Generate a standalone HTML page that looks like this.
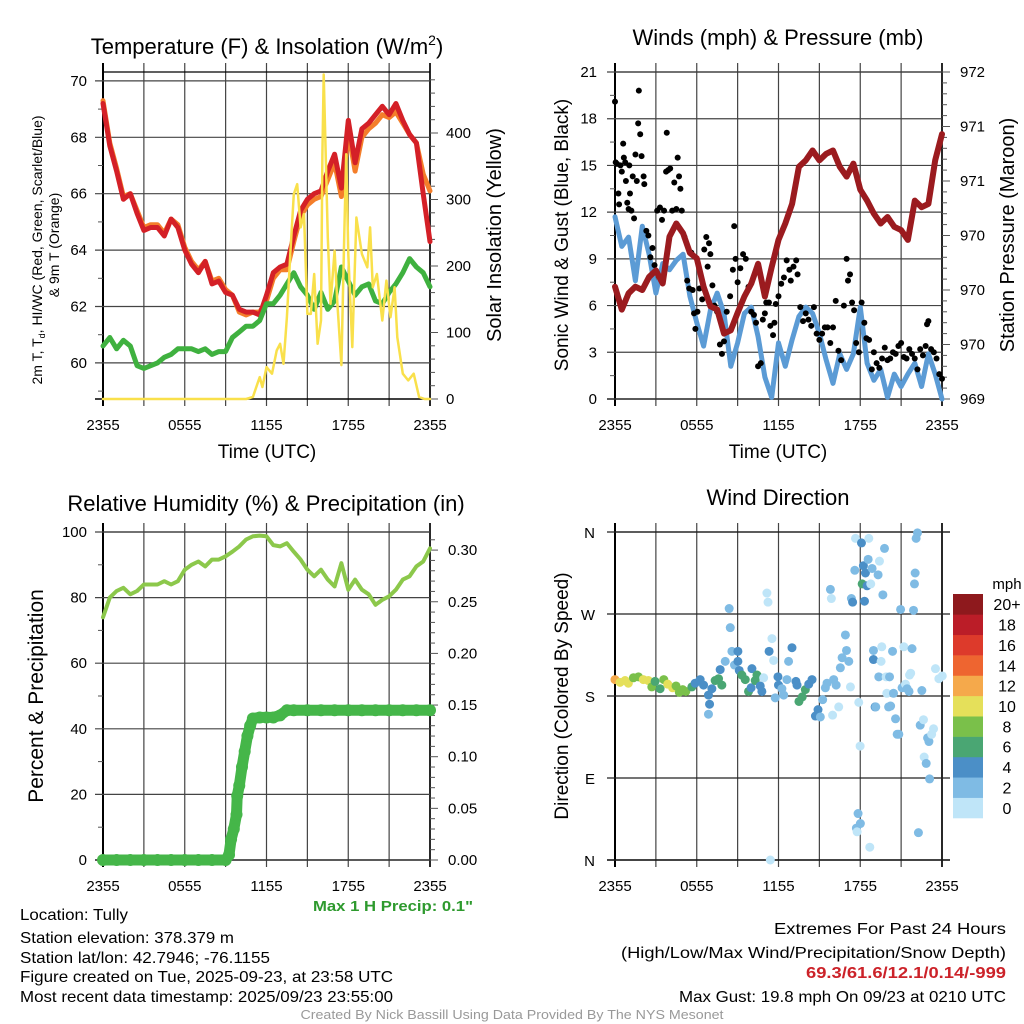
<!DOCTYPE html>
<html><head><meta charset="utf-8">
<style>
html,body{margin:0;padding:0;background:#fff;}
svg{display:block;font-family:"Liberation Sans",sans-serif;}
</style></head>
<body>
<svg id="fig" width="1024" height="1024" viewBox="0 0 1024 1024" xmlns="http://www.w3.org/2000/svg">
<rect width="1024" height="1024" fill="#fff"/>
<g id="grids"></g>
<g id="series"></g>
<g id="labels" font-size="14" fill="#000">
  <text x="267" y="54" font-size="22" text-anchor="middle">Temperature (F) &amp; Insolation (W/m<tspan font-size="14" dy="-9">2</tspan><tspan dy="9">)</tspan></text>
  <text x="778" y="45" font-size="22" text-anchor="middle">Winds (mph) &amp; Pressure (mb)</text>
  <text x="266" y="511" font-size="22" text-anchor="middle">Relative Humidity (%) &amp; Precipitation (in)</text>
  <text x="778" y="505" font-size="22" text-anchor="middle">Wind Direction</text>

  <text x="267" y="458" font-size="19" text-anchor="middle">Time (UTC)</text>
  <text x="778" y="458" font-size="19" text-anchor="middle">Time (UTC)</text>

  <text transform="translate(42,250) rotate(-90)" font-size="14" text-anchor="middle">2m T, T<tspan font-size="9" dy="3">d</tspan><tspan dy="-3">, HI/WC (Red, Green, Scarlet/Blue)</tspan></text>
  <text transform="translate(59,245) rotate(-90)" font-size="14" text-anchor="middle">&amp; 9m T (Orange)</text>
  <text transform="translate(501,235) rotate(-90)" font-size="20" text-anchor="middle">Solar Insolation (Yellow)</text>
  <text transform="translate(568,235) rotate(-90)" font-size="19" text-anchor="middle">Sonic Wind &amp; Gust (Blue, Black)</text>
  <text transform="translate(1014,235) rotate(-90)" font-size="20" text-anchor="middle">Station Pressure (Maroon)</text>
  <text transform="translate(43,696) rotate(-90)" font-size="21" text-anchor="middle">Percent &amp; Precipitation</text>
  <text transform="translate(568,696) rotate(-90)" font-size="19" text-anchor="middle">Direction (Colored By Speed)</text>

  <text x="393" y="911" font-size="15" font-weight="bold" fill="#2e9a2e" text-anchor="middle" textLength="160" lengthAdjust="spacingAndGlyphs">Max 1 H Precip: 0.1"</text>

  <text x="20" y="920" font-size="16" textLength="108" lengthAdjust="spacingAndGlyphs">Location: Tully</text>
  <text x="20" y="943" font-size="16" textLength="214" lengthAdjust="spacingAndGlyphs">Station elevation: 378.379 m</text>
  <text x="20" y="963" font-size="16" textLength="250" lengthAdjust="spacingAndGlyphs">Station lat/lon: 42.7946; -76.1155</text>
  <text x="20" y="982" font-size="16" textLength="373" lengthAdjust="spacingAndGlyphs">Figure created on Tue, 2025-09-23, at 23:58 UTC</text>
  <text x="20" y="1002" font-size="16" textLength="373" lengthAdjust="spacingAndGlyphs">Most recent data timestamp: 2025/09/23 23:55:00</text>

  <text x="1006" y="934" font-size="16" text-anchor="end" textLength="232" lengthAdjust="spacingAndGlyphs">Extremes For Past 24 Hours</text>
  <text x="1006" y="958" font-size="16" text-anchor="end" textLength="385" lengthAdjust="spacingAndGlyphs">(High/Low/Max Wind/Precipitation/Snow Depth)</text>
  <text x="1006" y="978" font-size="16" font-weight="bold" fill="#cc2229" text-anchor="end" textLength="200" lengthAdjust="spacingAndGlyphs">69.3/61.6/12.1/0.14/-999</text>
  <text x="1006" y="1002" font-size="16" text-anchor="end" textLength="327" lengthAdjust="spacingAndGlyphs">Max Gust: 19.8 mph On 09/23 at 0210 UTC</text>
  <text x="512" y="1019" font-size="13" fill="#999" text-anchor="middle" textLength="423" lengthAdjust="spacingAndGlyphs">Created By Nick Bassill Using Data Provided By The NYS Mesonet</text>
</g>
<g id="colorbar"></g>
</svg>
<script>
// ---------- DATA ----------
const hours = [0,0.5,1,1.5,2,2.5,3,3.5,4,4.5,5,5.5,6,6.5,7,7.5,8,8.5,9,9.5,10,10.5,11,11.5,12,12.5,13,13.5,14,14.5,15,15.5,16,16.5,17,17.5,18,18.5,19,19.5,20,20.5,21,21.5,22,22.5,23,23.5,24];
const tempVals = [69.2,67.7,66.8,65.8,66.0,65.3,64.7,64.8,64.8,64.5,65.1,64.8,64.0,63.5,63.2,63.6,62.8,62.9,62.5,62.4,61.9,61.8,61.8,61.7,62.4,63.2,63.4,63.5,64.5,65.4,65.8,66.0,66.1,66.8,67.4,66.2,68.6,67.1,68.3,68.5,68.8,69.1,68.8,69.2,68.6,68.1,67.8,66.0,64.3];
const temp9mVals = [69.3,67.8,66.9,65.9,66.0,65.4,64.8,64.9,64.9,64.6,65.1,64.9,64.1,63.6,63.3,63.6,62.9,63.0,62.6,62.4,61.8,61.7,61.8,61.8,62.2,63.0,63.3,63.3,64.3,65.2,65.6,65.8,65.9,66.5,67.1,65.9,68.2,66.8,68.0,68.3,68.5,68.8,68.7,68.9,68.5,68.1,67.8,66.7,66.1];
const dewVals = [60.6,60.9,60.5,60.8,60.6,59.9,59.8,59.9,60.0,60.2,60.3,60.5,60.5,60.5,60.4,60.5,60.3,60.4,60.4,60.9,61.1,61.3,61.3,61.5,62.1,62.1,62.4,62.8,63.2,62.7,62.4,61.9,62.5,61.9,62.2,63.4,62.9,62.4,62.7,62.8,62.2,62.1,62.5,62.8,63.2,63.7,63.4,63.2,62.7];
const solarHours = [0,10.5,11,11.5,11.7,12,12.4,12.75,13,13.25,13.5,13.75,14,14.25,14.5,14.75,15,15.25,15.5,15.75,16,16.1,16.2,16.5,16.7,17,17.2,17.5,17.7,17.85,18,18.3,18.6,19,19.4,19.6,19.8,20.1,20.5,20.8,21.1,21.4,21.6,22,22.4,22.8,23.2,23.6,24];
const solarVals = [0,0,3,33,18,48,38,73,83,53,123,218,308,323,258,278,128,128,188,83,118,368,488,243,143,223,143,51,243,368,218,78,273,218,198,258,168,188,118,178,123,168,93,38,28,38,3,0,0];
const windVals = [11.7,9.8,10.4,7.6,11.1,9.3,6.8,8.7,8.3,8.9,9.3,6.6,4.9,3.4,5.7,6.8,5.5,2.1,3.6,5.5,5.9,4.0,1.4,0.1,3.6,2.1,3.8,5.3,5.9,5.5,4.2,2.5,1.0,2.9,1.9,2.9,5.9,2.3,1.2,1.9,0.1,1.6,0.8,1.6,2.3,0.8,2.9,1.6,0];
const pressVals = [970.03,969.82,969.97,970.03,970.0,970.12,970.18,970.06,970.49,970.61,970.52,970.34,970.29,970.03,969.85,969.82,969.6,969.63,969.79,969.94,970.06,970.24,969.94,970.21,970.46,970.61,970.79,971.13,971.19,971.28,971.19,971.25,971.28,971.13,971.04,971.16,970.92,970.82,970.7,970.61,970.67,970.58,970.55,970.46,970.82,970.76,970.79,971.19,971.43];
const gustHours = [0,0.05,0.15,0.25,0.3,0.4,0.5,0.6,0.65,0.75,0.8,0.9,1.0,1.05,1.1,1.2,1.3,1.4,1.5,1.6,1.7,1.75,1.85,1.95,2.1,2.15,2.3,2.45,2.6,2.75,2.9,3.1,3.3,3.45,3.6,3.75,3.8,3.9,4.05,4.2,4.35,4.5,4.6,4.7,4.8,4.9,5.1,5.3,5.45,5.6,5.7,5.8,5.9,6.05,6.2,6.4,6.55,6.7,6.8,6.9,7.0,7.15,7.3,7.5,7.7,7.85,8.0,8.2,8.45,8.65,8.75,8.85,9.0,9.2,9.4,9.6,9.8,10.0,10.2,10.35,10.5,10.7,10.85,11.0,11.1,11.3,11.4,11.6,11.7,11.8,12.0,12.2,12.4,12.6,12.8,12.9,13.1,13.3,13.4,13.6,13.8,14.0,14.2,14.4,14.6,14.8,15.0,15.2,15.4,15.6,15.8,16.0,16.2,16.4,16.6,16.8,17.0,17.1,17.25,17.4,17.55,17.7,17.9,18.1,18.3,18.45,18.65,18.85,19.0,19.2,19.4,19.6,19.8,20.0,20.2,20.4,20.6,20.8,21.0,21.2,21.4,21.6,21.8,22.0,22.2,22.4,22.6,22.8,22.9,23.0,23.2,23.4,23.6,23.8,24.0];
const gustVals = [19.1,15.2,15.1,13.2,12.5,15.0,14.6,16.4,15.5,15.2,14.0,12.6,12.2,15.0,13.2,12.1,14.3,11.6,15.7,14.0,17.7,19.8,17.0,15.6,14.3,13.8,10.8,10.5,9.1,9.7,8.6,12.1,12.3,11.5,12.1,14.6,17.1,14.7,14.8,12.1,13.9,12.2,15.5,14.3,13.5,12.1,10.4,7.6,7.1,9.4,7.0,5.5,4.5,5.6,7.1,6.4,9.6,10.4,8.5,10.0,9.3,7.3,6.0,5.6,3.5,2.9,3.7,5.6,6.6,8.3,11.1,9.0,7.5,8.4,9.3,9.0,7.2,5.6,5.4,4.9,2.1,2.3,5.1,5.5,6.2,6.2,4.7,4.1,4.9,6.1,6.6,7.4,7.8,8.9,8.3,7.6,8.5,8.9,8.0,5.9,5.0,5.5,5.1,4.7,5.9,4.2,3.8,4.2,4.6,4.6,3.6,4.6,6.3,3.1,2.5,6.0,9.0,7.6,8.0,6.2,5.7,3.6,3.0,6.2,4.9,3.9,3.8,1.9,3.0,2.3,2.0,2.6,3.3,2.5,2.6,3.0,2.9,3.4,3.6,2.7,2.6,3.2,2.9,2.6,1.9,3.2,2.8,3.4,4.8,5.0,3.2,3.0,2.6,1.6,1.3];
const rhVals = [74,80,82,83,81,82,84,84,84,85,84,85,88.5,90,91,89.5,91.6,91.6,92.6,94,95.6,97.7,98.7,98.9,98.7,96,95.6,96.6,94,91.6,88.5,86.5,88.5,85.5,83.4,90.5,82.4,85.5,82.4,81,77.8,79.3,80.4,82.4,85.5,86.5,89.5,91,95];
const precipHours = [0,1,2,3,4,5,6,7,8,9,9.25,9.4,9.6,9.8,9.85,10.0,10.2,10.4,10.6,10.8,11.0,11.5,12,12.5,13,13.5,14,15,16,17,18,19,20,21,22,23,24];
const precipVals = [0,0,0,0,0,0,0,0,0,0,0.005,0.02,0.03,0.044,0.062,0.072,0.09,0.105,0.12,0.13,0.137,0.138,0.138,0.138,0.14,0.145,0.145,0.145,0.145,0.145,0.145,0.145,0.145,0.145,0.145,0.145,0.145];
const dirHours = [0,0.37,0.74,0.98,1.35,1.72,2.08,2.45,2.7,2.94,3.31,3.58,3.87,4.23,4.48,4.72,4.97,5.2,5.64,5.88,6.25,6.5,6.86,7.11,6.94,6.86,7.35,7.6,7.84,7.72,8.09,8.38,8.46,8.58,8.77,9.02,9.02,9.12,9.31,9.56,9.8,9.99,10.05,10.29,10.42,10.66,10.78,10.91,11.15,11.23,11.31,11.52,11.64,11.76,11.96,12.0,12.25,12.38,12.62,12.74,12.99,13.28,13.36,13.5,13.74,13.97,14.22,14.46,14.71,14.9,15.07,15.24,15.44,15.56,15.81,15.88,15.97,16.05,16.23,16.42,16.54,16.67,16.91,16.99,17.16,17.28,17.35,17.44,17.6,17.65,17.72,17.77,17.84,17.89,17.99,18.01,18.09,18.14,18.23,18.31,18.38,18.5,18.58,18.63,18.7,18.77,18.87,18.97,18.97,19.09,19.14,19.31,19.36,19.53,19.41,19.58,19.66,19.78,19.9,19.95,20.08,20.15,20.23,20.37,20.44,20.59,20.71,20.83,20.96,21.07,21.2,21.32,21.44,21.58,21.62,21.7,21.8,21.91,21.98,22.03,22.1,22.2,22.27,22.4,22.52,22.64,22.69,22.84,22.94,23.04,23.09,23.24,23.38,23.52,23.77,24.02,11.4];
const dirVals = [198,195,197,194,200,201,198,197,190,196,188,198,193,189,191,184,187,185,190,194,198,192,181,188,171,160,197,199,192,209,218,276,255,229,214,229,218,208,203,198,185,189,210,197,203,191,185,200,293,283,229,243,219,178,201,192,188,181,198,218,233,196,192,174,179,187,193,198,158,165,157,176,189,194,297,287,159,198,192,168,211,222,247,230,218,190,287,283,318,353,35,31,51,173,125,40,348,303,323,284,315,301,330,353,14,303,320,230,220,168,168,313,201,218,328,234,291,342,201,183,168,201,169,229,183,155,138,138,275,189,234,193,188,185,203,205,232,274,303,315,353,359,30,148,186,154,113,106,134,130,89,138,144,210,199,202,0,0];
const dirSpeeds = [12,10,10,10,8,8,10,10,8,6,6,8,10,10,8,8,8,8,6,4,4,4,4,4,4,2,6,6,6,4,2,2,2,2,2,4,4,4,6,6,6,4,4,6,6,4,4,0,0,0,4,0,0,2,4,4,2,2,2,2,4,4,4,6,6,6,4,4,4,4,2,2,2,2,2,0,0,2,2,0,2,2,2,2,2,0,2,4,2,0,2,0,2,0,0,2,4,6,4,4,4,4,2,0,0,0,2,2,4,4,2,2,2,0,0,0,2,2,0,0,2,2,2,2,2,2,2,2,2,2,0,0,2,2,0,0,2,2,2,2,2,2,2,2,2,0,0,2,2,2,2,0,0,0,0,0,0];
const colorbarLabels = ["0","2","4","6","8","10","12","14","16","18","20+"];
const colorbarColors = ["#bfe5f8","#7fbbe4","#4b8fc7","#4aa673","#7ac04a","#e5e05a","#f5a94b","#ee6530","#dd3a2b","#bb1d28","#8e191d"];
const xTickLabels = ["2355","0555","1155","1755","2355"];
const tempTicks = [60,62,64,66,68,70];
const solarTicks = [0,100,200,300,400];
const windTicks = [0,3,6,9,12,15,18,21];
const pressTicks = [969,969.5,970,970.5,971,971.5,972];
const pressTickLabels = ["969","970","970","970","971","971","972"];
const rhTicks = [0,20,40,60,80,100];
const precipTicks = [0,0.05,0.10,0.15,0.20,0.25,0.30];
const dirTicks = [0,90,180,270,360];
const dirTickLabels = ["N","E","S","W","N"];

// ---------- HELPERS ----------
const NS = "http://www.w3.org/2000/svg";
const G = document.getElementById('grids'), S = document.getElementById('series'), L = document.getElementById('labels'), CB = document.getElementById('colorbar');
function mk(tag, attrs, parent){const e=document.createElementNS(NS,tag);for(const k in attrs)e.setAttribute(k,attrs[k]);parent.appendChild(e);return e;}
function line(p,x1,y1,x2,y2,c,w,name){const e=mk('line',{x1,y1,x2,y2,stroke:c,'stroke-width':w},p);


return e;}
function txt(p,x,y,s,anchor,name,size){const e=mk('text',{x,y,'text-anchor':anchor,'font-size':size||15},p);e.textContent=s;


return e;}
function poly(p,xs,ys,fx,fy,c,w,name){const pts=xs.map((h,i)=>fx(h).toFixed(1)+','+fy(ys[i]).toFixed(1)).join(' ');
const e=mk('polyline',{points:pts,fill:'none',stroke:c,'stroke-width':w,'stroke-linejoin':'round','stroke-linecap':'round'},p);


return e;}

function frame(x0,x1,y0,y1,prefix,extRight){
  for(let h=0;h<=24;h+=3){const x=x0+h/24*(x1-x0);
    line(G,x,y0-9,x,y1+7,(h===0||h===24)?'#000':'#444',(h===0)?2:1.2,prefix+'-vgrid');}
  line(G,x0,y0,x1+(extRight||0),y0,'#000',1.2,prefix+'-top-border');
  line(G,x0-8,y1,x1+(extRight||0),y1,'#000',1.4,prefix+'-bottom-border');
  line(G,x0,y0-9,x0,y1+7,'#000',2,prefix+'-left-axis');
  line(G,x1,y0-9,x1,y1+7,'#000',1.6,prefix+'-right-axis');
  xTickLabels.forEach((s,i)=>txt(L,x0+i*6/24*(x1-x0),y1+31,s,'middle',prefix+'-x-tick-label',15));
}

// ---------- PANEL 1: temperature ----------
{
 const x0=103,x1=430,y0=72,y1=399;
 const fx=h=>x0+h/24*(x1-x0);
 const fyT=v=>y1-(v-58.72)*28.2;
 const fyS=v=>y1-v*0.665;
 frame(x0,x1,y0,y1,'temp');
 tempTicks.forEach(v=>{line(G,x0-8,fyT(v),x1,fyT(v),'#444',1.2,'temp-hgrid');txt(L,x0-16,fyT(v)+5,String(v),'end','temp-y-tick-label');});
 for(let v=59;v<=69;v+=2) line(G,x0-5,fyT(v),x0,fyT(v),'#555',1,'temp-minor-tick');
 for(let v=0;v<=480;v+=20){const big=v%100===0;line(G,x1,fyS(v),x1+(big?8:5),fyS(v),'#555',1,'solar-tick');}
 solarTicks.forEach(v=>txt(L,x1+16,fyS(v)+5,String(v),'start','solar-y-tick-label'));
 poly(S,hours,temp9mVals,fx,fyT,'#f47e2a',5,'temp-9m-line');
 poly(S,hours,tempVals,fx,fyT,'#d42027',5,'temp-2m-line');
 poly(S,hours,dewVals,fx,fyT,'#3fb13f',5,'dewpoint-line');
 poly(S,solarHours,solarVals,fx,fyS,'#f9e04b',2.5,'solar-line');
}
// ---------- PANEL 2: wind ----------
{
 const x0=615,x1=942,y0=72,y1=399;
 const fx=h=>x0+h/24*(x1-x0);
 const fyW=v=>y1-v*(y1-y0)/21;
 const fyP=v=>y1-(v-969)*(y1-y0)/3;
 frame(x0,x1,y0,y1,'wind');
 windTicks.forEach(v=>{line(G,x0-8,fyW(v),x1,fyW(v),'#444',1.2,'wind-hgrid');txt(L,x0-18,fyW(v)+5,String(v),'end','wind-y-tick-label');});
 for(let v=1.5;v<21;v+=3) line(G,x0-5,fyW(v),x0,fyW(v),'#555',1,'wind-minor-tick');
 for(let k=0;k<=30;k++){const v=969+k*0.1;const big=k%5===0;line(G,x1,fyP(v),x1+(big?8:5),fyP(v),'#555',1,'pressure-tick');}
 pressTicks.forEach((v,i)=>txt(L,x1+18,fyP(v)+5,pressTickLabels[i],'start','pressure-y-tick-label'));
 poly(S,hours,windVals,fx,fyW,'#5b9bd5',5,'wind-speed-line');
 gustHours.forEach((h,i)=>{const c=mk('circle',{cx:fx(h),cy:fyW(gustVals[i]),r:3,fill:'#000'},S);
  
  });
 poly(S,hours,pressVals,fx,fyP,'#9b1b1f',6,'pressure-line');
}
// ---------- PANEL 3: RH & precip ----------
{
 const x0=103,x1=430,y0=532,y1=860;
 const fx=h=>x0+h/24*(x1-x0);
 const fyR=v=>y1-v*(y1-y0)/100;
 const fyP=v=>y1-v*1033;
 frame(x0,x1,y0,y1,'rh');
 rhTicks.forEach(v=>{line(G,x0-8,fyR(v),x1,fyR(v),'#444',1.2,'rh-hgrid');txt(L,x0-16,fyR(v)+5,String(v),'end','rh-y-tick-label');});
 for(let v=10;v<100;v+=20) line(G,x0-5,fyR(v),x0,fyR(v),'#555',1,'rh-minor-tick');
 for(let k=0;k<=31;k++){const v=k*0.01;const big=k%5===0;line(G,x1,fyP(v),x1+(big?8:5),fyP(v),'#555',1,'precip-tick');}
 precipTicks.forEach(v=>txt(L,x1+18,fyP(v)+5,v.toFixed(2),'start','precip-y-tick-label'));
 poly(S,hours,rhVals,fx,fyR,'#8cc84b',4,'rh-line');
 poly(S,precipHours,precipVals,fx,fyP,'#45b649',11,'precip-line');
 precipHours.forEach((h,i)=>{const c=mk('circle',{cx:fx(h),cy:fyP(precipVals[i]),r:6,fill:'#45b649'},S);
  
  });
}
// ---------- PANEL 4: wind direction ----------
{
 const x0=615,x1=942,y0=532,y1=860;
 const fx=h=>x0+h/24*(x1-x0);
 const fyD=d=>y1-d/360*(y1-y0);
 frame(x0,x1,y0,y1,'dir',8);
 dirTicks.forEach((v,i)=>{line(G,x0-8,fyD(v),x1+8,fyD(v),'#222',1.2,'dir-hgrid');txt(L,x0-20,fyD(v)+6,dirTickLabels[i],'end','dir-y-tick-label',15);});
 dirHours.forEach((h,i)=>{const ci=Math.min(10,Math.floor(dirSpeeds[i]/2));
  const c=mk('circle',{cx:fx(h),cy:fyD(dirVals[i]),r:4.5,fill:colorbarColors[ci]},S);
  
  });
 const cbTop=594,cbBot=818,n=colorbarColors.length,bh=(cbBot-cbTop)/n;
 colorbarColors.forEach((col,i)=>{const y=cbBot-(i+1)*bh;
  const r=mk('rect',{x:953,y:y,width:30,height:bh+0.3,fill:col},CB);
  
  
  txt(CB,1007,y+bh/2+6,colorbarLabels[i],'middle','colorbar-label',16);});
 txt(CB,1007,589,'mph','middle','colorbar-unit-label',15);
}
</script>
</body></html>
